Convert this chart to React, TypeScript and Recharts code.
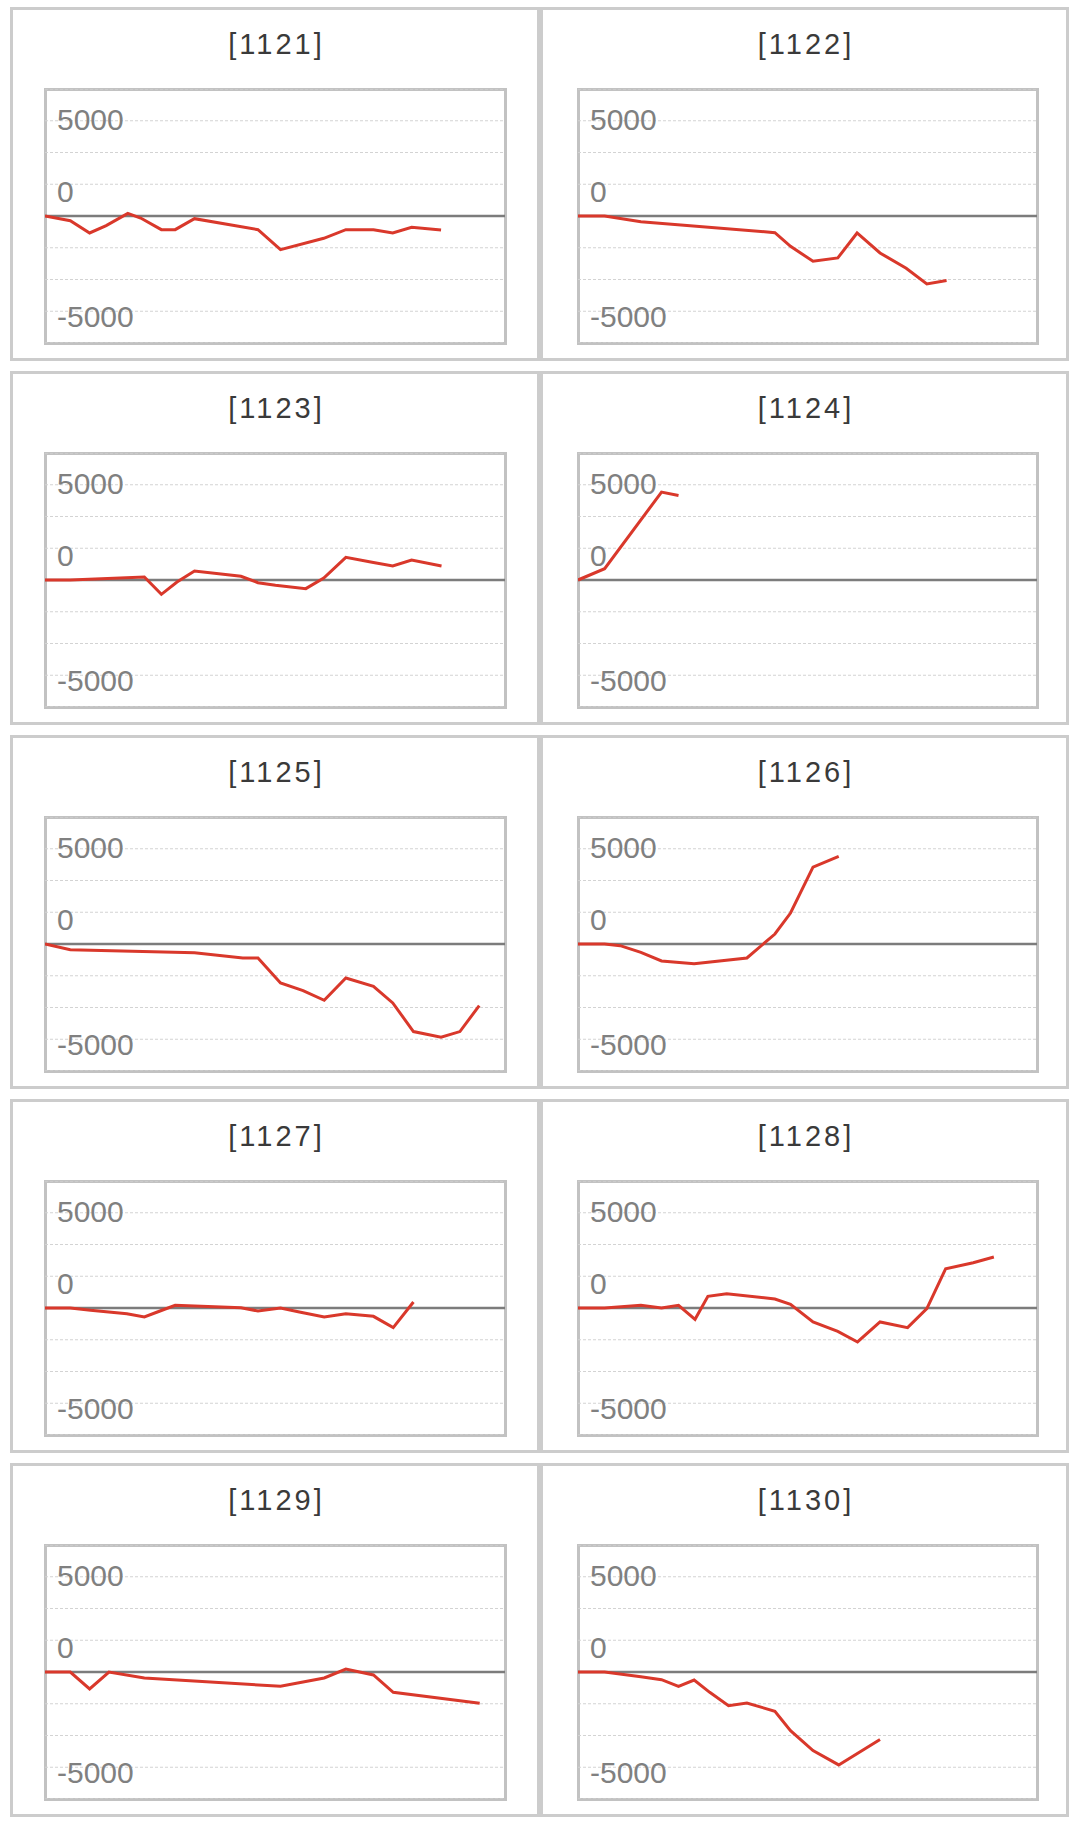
import { LineChart, Line, XAxis, YAxis, CartesianGrid, ReferenceLine } from 'recharts';

// titles of the ten small charts, left to right, top to bottom
const titles = ['[1121]', '[1122]', '[1123]', '[1124]', '[1125]', '[1126]', '[1127]', '[1128]', '[1129]', '[1130]'];

// x = position along the day (0..100), y = running difference
const x1121 = [0, 5.5, 9.7, 13.3, 18.0, 20.8, 25.3, 28.3, 32.5, 46.3, 51.2, 60.6, 65.4, 71.4, 75.6, 79.7, 86.1];
const y1121 = [0, -245, -892, -507, 140, -105, -717, -717, -140, -717, -1765, -1171, -717, -717, -892, -594, -734];

const x1122 = [0, 5.8, 13.7, 42.9, 46.3, 51.2, 56.6, 60.8, 65.8, 71.5, 76.0, 80.3];
const y1122 = [0, 0, -297, -874, -1591, -2377, -2202, -891, -1940, -2744, -3566, -3391];

const x1123 = [0, 5.5, 21.6, 25.3, 28.7, 32.5, 42.6, 46.3, 50.1, 56.7, 60.6, 65.4, 71.1, 75.6, 79.7, 86.2];
const y1123 = [0, 0, 157, -752, -105, 472, 192, -140, -280, -454, 105, 1189, 927, 734, 1049, 734];

const x1124 = [0, 5.8, 18.2, 21.9];
const y1124 = [0, 594, 4615, 4440];

const x1125 = [0, 5.5, 32.5, 43.0, 46.3, 51.2, 56.1, 60.7, 65.4, 71.4, 75.6, 80.1, 86.1, 90.2, 94.4];
const y1125 = [0, -297, -454, -734, -734, -2045, -2447, -2954, -1783, -2220, -3094, -4597, -4894, -4597, -3234];

const x1126 = [0, 5.8, 9.2, 13.7, 18.2, 25.3, 36.8, 42.9, 46.3, 51.2, 56.8];
const y1126 = [0, 0, -87, -437, -891, -1031, -734, 524, 1626, 4038, 4597];

const x1127 = [0, 5.5, 9.9, 17.8, 21.6, 25.0, 28.3, 42.6, 46.3, 51.2, 55.3, 60.7, 65.4, 71.4, 75.7, 80.1];
const y1127 = [0, 0, -122, -297, -472, -157, 140, 17, -157, 0, -210, -472, -297, -437, -1031, 315];

const x1128 = [0, 5.8, 13.7, 18.2, 21.9, 25.5, 28.3, 32.4, 42.9, 46.3, 51.2, 56.6, 60.9, 65.8, 71.8, 76.0, 80.1, 86.1, 90.6];
const y1128 = [0, 0, 140, 0, 140, -594, 612, 752, 472, 192, -734, -1224, -1783, -734, -1031, -35, 2063, 2377, 2674];

const x1129 = [0, 5.5, 9.7, 13.9, 21.6, 51.2, 60.7, 65.4, 71.4, 75.7, 94.5];
const y1129 = [0, 0, -892, 0, -315, -752, -315, 157, -157, -1066, -1643];

const x1130 = [0, 5.8, 13.7, 18.2, 21.9, 25.3, 28.7, 32.8, 36.8, 42.9, 46.3, 51.2, 56.8, 65.8];
const y1130 = [0, 0, -245, -402, -752, -420, -1066, -1765, -1626, -2063, -3077, -4126, -4877, -3548];

const xs = [x1121, x1122, x1123, x1124, x1125, x1126, x1127, x1128, x1129, x1130];
const ys = [y1121, y1122, y1123, y1124, y1125, y1126, y1127, y1128, y1129, y1130];

const STEP = 5000 / 3;
const yTicks = [-3 * STEP, -2 * STEP, -STEP, 0, STEP, 2 * STEP, 3 * STEP];
const tickText: Record<number, string> = { 5000: '5000', 0: '0', [-5000]: '-5000' };
// the original draws its labels a little off their grid lines
const tickShift: Record<number, number> = { 5000: -1, 0: -25, [-5000]: 5 };

// left and right column boxes
const columns = [
  { left: 10, width: 530, plotLeft: 32, plotW: 460 },
  { left: 540, width: 529, plotLeft: 35, plotW: 459 },
];
const PANEL_H = 354;
const ROW_STEP = 364;
const PLOT_H = 254;

function YTick(props: any) {
  const { y, payload } = props;
  const label = tickText[payload.value];
  if (label === undefined) return null;
  return (
    <text
      x={12}
      y={y + (tickShift[payload.value] || 0)}
      dominantBaseline="central"
      textAnchor="start"
      fill="#808080"
      fontSize={30}
      fontFamily="'Liberation Sans', Arial, sans-serif"
    >
      {label}
    </text>
  );
}

function Panel({ index }: { index: number }) {
  const data = xs[index].map((x, i) => ({ x, v: ys[index][i] }));
  const col = columns[index % 2];
  const row = Math.floor(index / 2);
  return (
    <div
      style={{
        position: 'absolute',
        left: col.left,
        top: 7 + row * ROW_STEP,
        width: col.width,
        height: PANEL_H,
        boxSizing: 'border-box',
        border: '3px solid #cccccc',
        background: '#fff',
      }}
    >
      <div
        style={{
          position: 'absolute',
          top: 19,
          left: 0,
          width: '100%',
          textAlign: 'center',
          fontFamily: "'Liberation Sans', Arial, sans-serif",
          fontSize: 29,
          lineHeight: '30px',
          letterSpacing: 3,
          textIndent: 3,
          color: '#3a3a3a',
        }}
      >
        {titles[index]}
      </div>
      <div
        style={{
          position: 'absolute',
          left: col.plotLeft - 1.5,
          top: 79 - 1.5,
          width: col.plotW + 3,
          height: PLOT_H + 3,
          boxSizing: 'border-box',
          border: '3px solid #c2c2c2',
        }}
      />
      <div style={{ position: 'absolute', left: col.plotLeft, top: 79 }}>
        <LineChart width={col.plotW} height={PLOT_H} data={data} margin={{ top: 0, right: 0, bottom: 0, left: 0 }}>
          <CartesianGrid vertical={false} stroke="#d3d3d3" strokeDasharray="3 2" />
          <XAxis dataKey="x" type="number" domain={[0, 100]} hide />
          <YAxis
            type="number"
            domain={[-4 * STEP, 4 * STEP]}
            ticks={yTicks}
            interval={0}
            mirror
            axisLine={false}
            tickLine={false}
            tick={YTick}
          />
          <ReferenceLine y={0} stroke="#7c7c7c" strokeWidth={2.5} />
          <Line
            type="linear"
            dataKey="v"
            stroke="#d9382b"
            strokeWidth={3}
            dot={false}
            isAnimationActive={false}
          />
        </LineChart>
      </div>
    </div>
  );
}

export default function App() {
  return (
    <div style={{ position: 'absolute', left: 0, top: 0, width: 1079, height: 1828, background: '#fff' }}>
      {titles.map((_, i) => (
        <Panel key={i} index={i} />
      ))}
    </div>
  );
}
